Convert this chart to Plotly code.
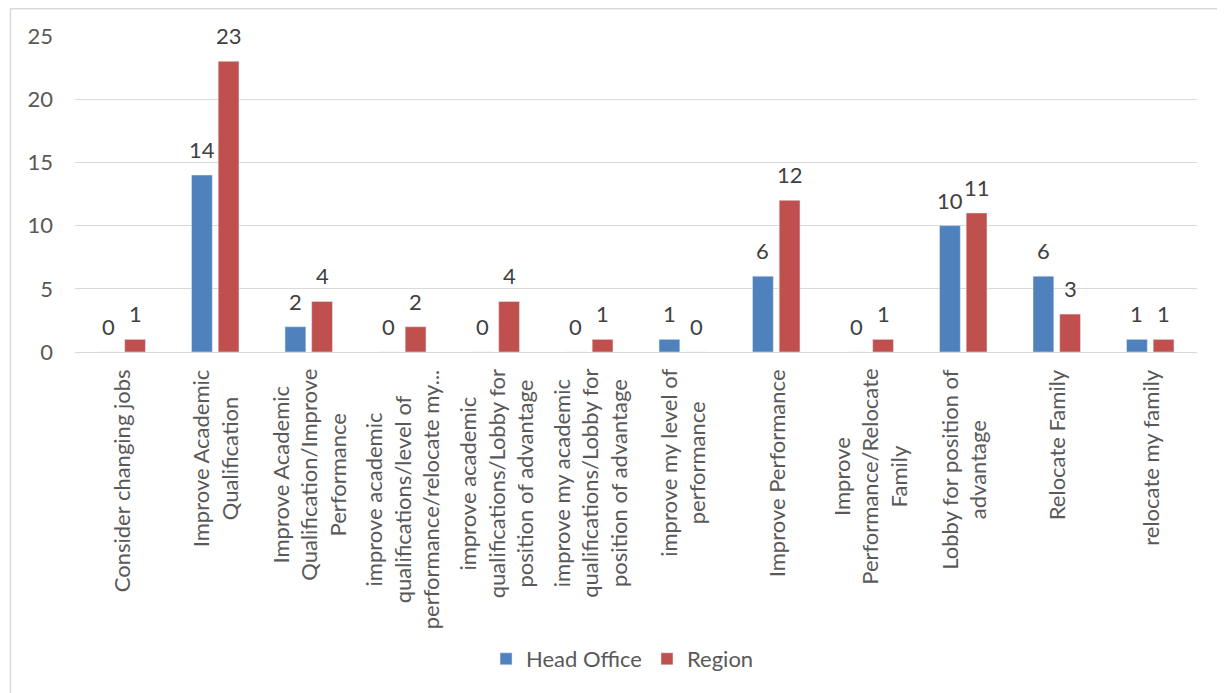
import plotly.graph_objects as go

categories = [
    "Consider changing jobs",
    "Improve Academic Qualification",
    "Improve Academic Qualification/Improve Performance",
    "improve academic qualifications/level of performance/relocate my...",
    "improve academic qualifications/Lobby for position of advantage",
    "improve my academic qualifications/Lobby for position of advantage",
    "improve my level of performance",
    "Improve Performance",
    "Improve Performance/Relocate Family",
    "Lobby for position of advantage",
    "Relocate Family",
    "relocate my family",
]

tick_labels = [
    "Consider changing jobs",
    "Improve Academic<br>Qualification",
    "Improve Academic<br>Qualification/Improve<br>Performance",
    "improve academic<br>qualifications/level of<br>performance/relocate my...",
    "improve academic<br>qualifications/Lobby for<br>position of advantage",
    "improve my academic<br>qualifications/Lobby for<br>position of advantage",
    "improve my level of<br>performance",
    "Improve Performance",
    "Improve<br>Performance/Relocate<br>Family",
    "Lobby for position of<br>advantage",
    "Relocate Family",
    "relocate my family",
]

head_office = [0, 14, 2, 0, 0, 0, 1, 6, 0, 10, 6, 1]
region = [1, 23, 4, 2, 4, 1, 0, 12, 1, 11, 3, 1]

FONT = "Lato, 'Open Sans', sans-serif"
GRID = "#D9D9D9"

fig = go.Figure()
fig.add_trace(go.Bar(x=categories, y=head_office, name="Head Office",
                     marker_color="#4F81BD"))
fig.add_trace(go.Bar(x=categories, y=region, name="Region",
                     marker_color="#C0504D"))

annotations = []
# data labels above each bar
for shift, values in ((-13.3, head_office), (13.3, region)):
    for cat, v in zip(categories, values):
        annotations.append(dict(
            x=cat, y=v, xref="x", yref="y", text=str(v), showarrow=False,
            xshift=shift, yshift=10, yanchor="bottom",
            font=dict(family=FONT, size=22, color="#404040")))

# rotated category labels, lines centred like Excel does
for cat, lab in zip(categories, tick_labels):
    annotations.append(dict(
        x=cat, y=0, xref="x", yref="y", text=lab, showarrow=False,
        textangle=-90, yanchor="top", xanchor="center", yshift=-15,
        align="center",
        font=dict(family=FONT, size=22, color="#595959")))

# page body has an 8px margin, so the figure is a bit smaller
fig.update_layout(
    width=1217, height=685,
    margin=dict(l=67, r=28, t=28, b=341),
    paper_bgcolor="white", plot_bgcolor="white",
    barmode="group", bargap=0.43, bargroupgap=0.22,
    font=dict(family=FONT, size=22, color="#595959"),
    annotations=annotations,
    showlegend=True,
    legend=dict(orientation="h", x=0.488, xanchor="center",
                y=-0.9715, yanchor="middle",
                font=dict(family=FONT, size=22, color="#595959")),
    shapes=[dict(type="rect", xref="paper", yref="paper",
                 x0=-0.0575, x1=1.1, y0=-1.2, y1=1.086,
                 line=dict(color=GRID, width=1.5), layer="below")],
)
fig.update_xaxes(showticklabels=False, showline=True, linecolor=GRID,
                 linewidth=1, ticks="", showgrid=False)
fig.update_yaxes(range=[0, 25], dtick=5, showgrid=True, gridcolor=GRID,
                 gridwidth=1, zeroline=False, showline=False, ticks="",
                 ticklabelstandoff=21,
                 tickfont=dict(family=FONT, size=22, color="#595959"))

fig.write_html("out.html")
